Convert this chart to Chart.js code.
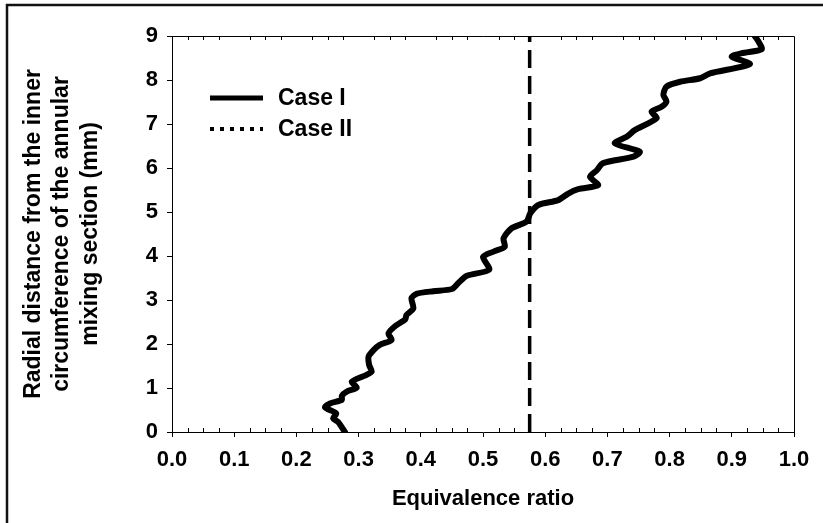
<!DOCTYPE html>
<html>
<head>
<meta charset="utf-8">
<script src="https://cdn.jsdelivr.net/npm/chart.js@4.4.1/dist/chart.umd.min.js"></script>
<style>
  html, body { margin: 0; padding: 0; background: #fff; }
  #wrap { width: 823px; height: 523px; }
</style>
</head>
<body>
<div id="wrap"><canvas id="chart" width="823" height="523"></canvas></div>
<script>
// radial distance (mm) and equivalence ratio
const radialMm = [0.00, 0.23, 0.31, 0.42, 0.56, 0.65, 0.73, 0.82, 0.92, 1.01,
                  1.14, 1.27, 1.37, 1.52, 1.71, 1.86, 1.98, 2.09, 2.24, 2.41,
                  2.56, 2.66, 2.81, 3.04, 3.14, 3.20, 3.25, 3.38, 3.55, 3.69,
                  3.98, 4.10, 4.21, 4.40, 4.63, 4.78, 4.97, 5.16, 5.27, 5.42,
                  5.52, 5.61, 5.80, 5.95, 6.11, 6.26, 6.37, 6.56, 6.71, 6.86,
                  7.13, 7.28, 7.39, 7.51, 7.66, 7.85, 7.96, 8.04, 8.15, 8.36,
                  8.53, 8.61, 8.70, 8.87, 9.00];
const caseI    = [0.278, 0.267, 0.259, 0.264, 0.246, 0.254, 0.273, 0.273, 0.281, 0.297,
                  0.289, 0.308, 0.321, 0.317, 0.316, 0.324, 0.334, 0.353, 0.348, 0.359,
                  0.375, 0.377, 0.388, 0.385, 0.393, 0.420, 0.450, 0.460, 0.474, 0.510,
                  0.500, 0.517, 0.535, 0.533, 0.546, 0.570, 0.576, 0.589, 0.621, 0.637,
                  0.653, 0.685, 0.672, 0.683, 0.693, 0.742, 0.752, 0.712, 0.731, 0.744,
                  0.779, 0.771, 0.787, 0.795, 0.790, 0.795, 0.817, 0.849, 0.865, 0.929,
                  0.900, 0.916, 0.948, 0.943, 0.937];
const caseIIRatio = 0.575;
const caseIIRange = [0, 9];
const seriesNames = ['Case I', 'Case II'];
const yTitleLines = ['Radial distance from the inner', 'circumference of the annular', 'mixing section (mm)'];
const xTitle = 'Equivalence ratio';
const minorStep = 0.025;

const FONT = "'Liberation Sans', Arial, sans-serif";
Chart.defaults.font.family = FONT;
Chart.defaults.color = '#000';

const decorations = {
  id: 'decorations',
  beforeDraw(chart) {
    const ctx = chart.ctx;
    ctx.save();
    ctx.fillStyle = '#fff';
    ctx.fillRect(0, 0, chart.width, chart.height);
    ctx.strokeStyle = '#111';
    ctx.lineWidth = 2.5;
    ctx.beginPath();
    ctx.moveTo(7, chart.height);
    ctx.lineTo(7, 5);
    ctx.lineTo(chart.width, 5);
    ctx.stroke();
    ctx.restore();
  },
  afterDraw(chart) {
    const { ctx, chartArea: a, scales: { x } } = chart;
    ctx.save();
    // plot box (top + right) and minor ticks
    ctx.strokeStyle = '#000';
    ctx.lineWidth = 1;
    ctx.beginPath();
    ctx.moveTo(a.left, a.top + 0.5);
    ctx.lineTo(a.right + 0.5, a.top + 0.5);
    ctx.lineTo(a.right + 0.5, a.bottom);
    const n = Math.round((x.max - x.min) / minorStep);
    for (let i = 1; i < n; i++) {
      if (i % 4 === 0) continue;
      const px = Math.round(x.getPixelForValue(x.min + i * minorStep)) + 0.5;
      ctx.moveTo(px, a.bottom); ctx.lineTo(px, a.bottom - 4);
      ctx.moveTo(px, a.top); ctx.lineTo(px, a.top + 4);
    }
    ctx.stroke();

    // legend
    const lx = a.left + 38, ly = a.top + 62, gap = 31;
    ctx.font = 'bold 23px ' + FONT;
    ctx.textBaseline = 'middle';
    ctx.fillStyle = '#000';
    chart.data.datasets.forEach((ds, i) => {
      const y = ly + i * gap;
      ctx.beginPath();
      ctx.lineWidth = ds.legendWidth;
      ctx.setLineDash(ds.legendDash);
      ctx.lineCap = 'butt';
      ctx.moveTo(lx, y);
      ctx.lineTo(lx + 53, y);
      ctx.stroke();
      ctx.setLineDash([]);
      ctx.fillText(ds.label, lx + 68, y + 1);
    });
    ctx.restore();
  }
};

new Chart(document.getElementById('chart'), {
  type: 'scatter',
  data: {
    datasets: [
      {
        label: seriesNames[0],
        data: radialMm.map((r, i) => ({ x: caseI[i], y: r })),
        showLine: true,
        borderColor: '#000',
        borderWidth: 6,
        borderJoinStyle: 'round',
        borderCapStyle: 'round',
        tension: 0.25,
        pointRadius: 0,
        legendWidth: 5,
        legendDash: []
      },
      {
        label: seriesNames[1],
        data: caseIIRange.map(r => ({ x: caseIIRatio, y: r })),
        showLine: true,
        borderColor: '#000',
        borderWidth: 3.5,
        borderDash: [18, 8],
        pointRadius: 0,
        legendWidth: 4,
        legendDash: [4, 6]
      }
    ]
  },
  options: {
    responsive: false,
    animation: false,
    layout: { padding: { left: 16, right: 29, top: 36, bottom: 0 } },
    plugins: { legend: { display: false }, tooltip: { enabled: false } },
    scales: {
      x: {
        type: 'linear', min: 0, max: 1,
        ticks: { stepSize: 0.1, callback: v => v.toFixed(1), font: { size: 22, weight: 'bold' }, padding: 10, maxRotation: 0, autoSkip: false },
        grid: { drawOnChartArea: false, tickLength: 5, color: '#000' },
        border: { color: '#000', width: 1 },
        title: { display: true, text: xTitle, font: { size: 22, weight: 'bold' }, padding: { bottom: 11 } },
        afterFit: s => { s.height = 91; }
      },
      y: {
        type: 'linear', min: 0, max: 9,
        ticks: { stepSize: 1, font: { size: 22, weight: 'bold' }, padding: 9 },
        grid: { drawOnChartArea: false, tickLength: 5, color: '#000' },
        border: { color: '#000', width: 1 },
        title: { display: true, text: yTitleLines, font: { size: 23, weight: 'bold', lineHeight: 1.25 }, padding: { top: 3 } },
        afterFit: s => { s.width = 156; }
      }
    }
  },
  plugins: [decorations]
});
</script>
</body>
</html>
